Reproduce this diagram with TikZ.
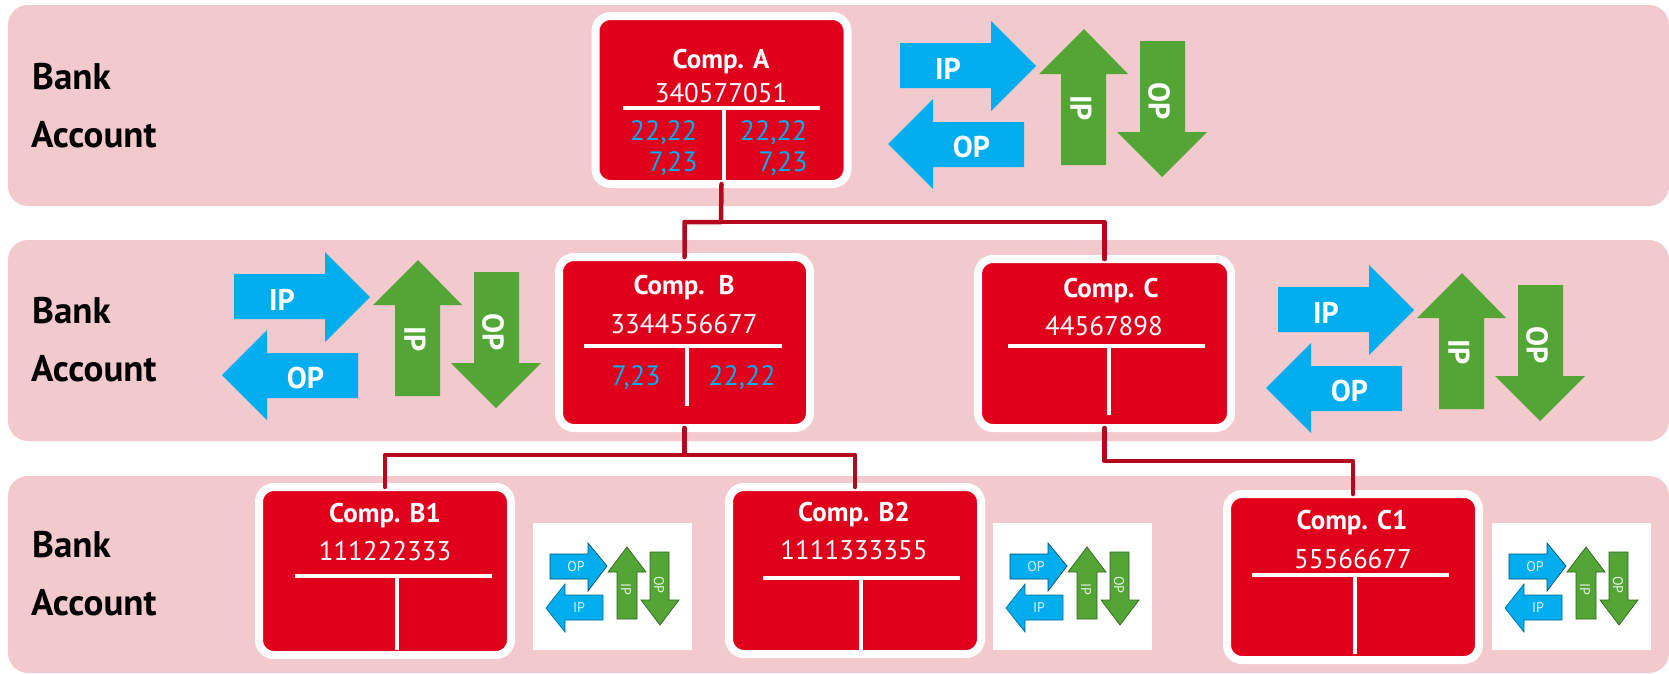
\documentclass[tikz,border=0pt]{standalone}
\usepackage{fontspec}
\setmainfont{PT Sans}
\definecolor{bandpink}{HTML}{F2C9CC}
\definecolor{boxred}{HTML}{E0001B}
\definecolor{connred}{HTML}{B5081F}
\definecolor{arrblue}{HTML}{00ADEE}
\definecolor{arrgreen}{HTML}{53A636}
\newcommand{\fs}[1]{\fontsize{#1}{#1}\selectfont}
\tikzset{
  x=1pt,y=-1pt,
  band/.style={fill=bandpink,draw=none,rounded corners=20pt},
  bankt/.style={anchor=west,inner sep=0,font=\fs{37}\bfseries,text=black},
  compbox/.style={draw=white,line width=8pt,fill=boxred,rounded corners=15pt,outer sep=0,inner sep=0},
  wl/.style={draw=white,line width=4pt},
  titlet/.style={inner sep=0,font=\fs{27}\bfseries,text=white},
  numt/.style={inner sep=0,font=\fs{27},text=white},
  bluet/.style={inner sep=0,font=\fs{28},text=arrblue},
  conn/.style={draw=connred,line width=4.5pt,line join=round,line cap=round},
  lab/.style={inner sep=0,font=\fs{30}\bfseries,text=white},
  slab/.style={inner sep=0,font=\fs{14},text=white,opacity=.85},
  bigarrows/.pic={
    \fill[arrblue] (0,0)--(91,0)--(91,-22)--(136,23)--(91,68)--(91,45)--(0,45)--cycle;
    \fill[arrblue] (-12,101)--(33,56)--(33,79)--(124,79)--(124,124)--(33,124)--(33,146)--cycle;
    \fill[arrgreen] (184,-14)--(228,31)--(206,31)--(206,122)--(161,122)--(161,31)--(139,31)--cycle;
    \fill[arrgreen] (240,-2)--(285,-2)--(285,89)--(307,89)--(262,134)--(217,89)--(240,89)--cycle;
    \node[lab] (-ipr) at (48,26) {IP};
    \node[lab] (-opl) at (71.5,104) {OP};
    \node[lab,rotate=-90] (-ipu) at (181,65) {IP};
    \node[lab,rotate=-90] (-opd) at (259,58) {OP};
  },
  smallarrows/.pic={
    \fill[white] (0,0) rectangle (159,127);
    \filldraw[arrblue,draw=black!55!arrblue,line width=.7pt] (17,31)--(55,31)--(55,20)--(74,43)--(55,68)--(55,56)--(17,56)--cycle;
    \filldraw[arrblue,draw=black!35!arrblue,line width=.7pt] (13,85)--(32,61)--(32,72)--(70,72)--(70,97)--(32,97)--(32,109)--cycle;
    \filldraw[arrgreen,draw=black!40!arrgreen,line width=.7pt] (94,24)--(113,49)--(104,49)--(104,96)--(84,96)--(84,49)--(75,49)--cycle;
    \filldraw[arrgreen,draw=black!40!arrgreen,line width=.7pt] (117,29)--(136,29)--(136,77)--(146,77)--(127,102)--(108,77)--(117,77)--cycle;
    \node[slab] (-opr) at (43,44) {OP};
    \node[slab] (-ipl) at (46,85) {IP};
    \node[slab,rotate=-90] (-ipu) at (93,66) {IP};
    \node[slab,rotate=-90] (-opd) at (126,62) {OP};
  }
}
\begin{document}
\begin{tikzpicture}
\useasboundingbox (0,0) rectangle (1669,673);
% bands
\fill[band] (8,5) rectangle (1669,206);
\fill[band] (8,240) rectangle (1669,441);
\fill[band] (8,476) rectangle (1669,673);
\node[bankt] (bank1) at (32,77) {Bank};
\node[bankt] (acct1) at (31,135) {Account};
\node[bankt] (bank2) at (32,311) {Bank};
\node[bankt] (acct2) at (31,369) {Account};
\node[bankt] (bank3) at (32,545) {Bank};
\node[bankt] (acct3) at (31,603) {Account};
% boxes
\node[compbox,minimum width=252pt,minimum height=168pt] (A) at (721.5,100) {};
\node[compbox,minimum width=251pt,minimum height=171pt] (B) at (684.5,342.5) {};
\node[compbox,minimum width=253pt,minimum height=169pt] (C) at (1104.5,343.5) {};
\node[compbox,minimum width=252pt,minimum height=168pt] (B1) at (385,571) {};
\node[compbox,minimum width=252pt,minimum height=167pt] (B2) at (855,570.5) {};
\node[compbox,minimum width=252pt,minimum height=166pt] (C1) at (1353,577) {};
% connectors
\coordinate (jA) at (721,222);
\coordinate (jB) at (684.5,455);
\coordinate (jC) at (1104.5,461);
\draw[conn] (A.south) -- (jA) -| (B.north);
\draw[conn] (jA) -| (C.north);
\draw[conn] (B.south) -- (jB) -| (B1.north);
\draw[conn] (jB) -| (B2.north);
\draw[conn] (C.south) -- (jC) -| (C1.north);
% box A
\node[titlet] (At) at (721,62) {Comp. A};
\node[numt] (An) at (721,93) {340577051};
\draw[wl] (623,108) -- (820,108);
\draw[wl] (724,108) -- (724,181);
\node[bluet] (Aa) at (663.5,133) {22,22};
\node[bluet] (Ab) at (673,164) {7,23};
\node[bluet] (Ac) at (773.5,133) {22,22};
\node[bluet] (Ad) at (783,164) {7,23};
% box B
\node[titlet] (Bt) at (684,288) {Comp.\ \ B};
\node[numt] (Bn) at (684,324) {3344556677};
\draw[wl] (584,346) -- (782,346);
\draw[wl] (686.5,346) -- (686.5,406);
\node[bluet] (Ba) at (636,378) {7,23};
\node[bluet] (Bb) at (742,378) {22,22};
% box C
\node[titlet] (Ct) at (1111,291) {Comp. C};
\node[numt] (Cn) at (1104,326) {44567898};
\draw[wl] (1008,346) -- (1205,346);
\draw[wl] (1109,346) -- (1109,415);
% box B1
\node[titlet] (B1t) at (385,516) {Comp. B1};
\node[numt] (B1n) at (385,551) {111222333};
\draw[wl] (295,576) -- (492,576);
\draw[wl] (397,576) -- (397,650);
% box B2
\node[titlet] (B2t) at (854,515) {Comp. B2};
\node[numt] (B2n) at (854,550) {1111333355};
\draw[wl] (763,578) -- (960,578);
\draw[wl] (861,578) -- (861,650);
% box C1
\node[titlet] (C1t) at (1352,523) {Comp. C1};
\node[numt] (C1n) at (1353,559) {55566677};
\draw[wl] (1252,575) -- (1449,575);
\draw[wl] (1355,575) -- (1355,654);
% arrows
\pic (ga) at (900,43) {bigarrows};
\pic (gb) at (234,274) {bigarrows};
\pic (gc) at (1278,287) {bigarrows};
\pic (s1) at (533,523) {smallarrows};
\pic (s2) at (993,523) {smallarrows};
\pic (s3) at (1492,523) {smallarrows};
\end{tikzpicture}
\end{document}
